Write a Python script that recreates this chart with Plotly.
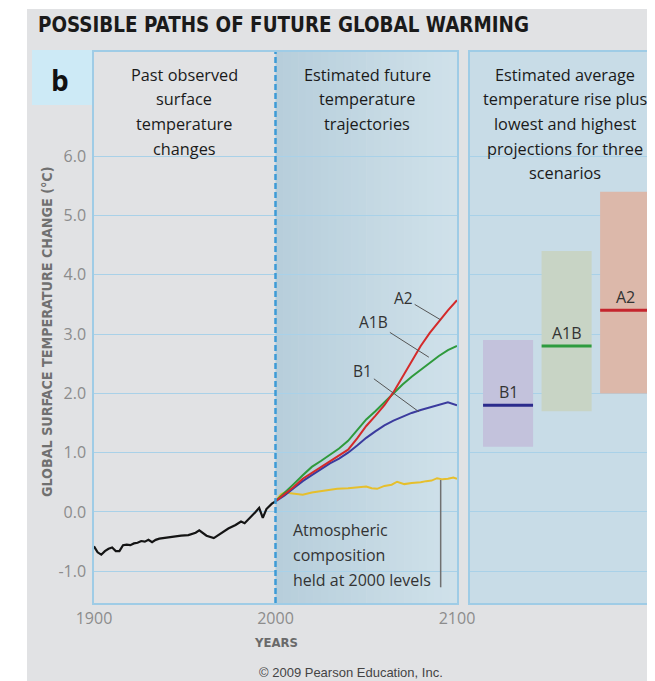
import plotly.graph_objects as go

# ---------------- data ----------------
obs_years = [1900, 1902, 1904, 1906, 1908, 1910, 1912, 1914, 1916, 1918, 1920, 1922, 1924,
             1926, 1928, 1930, 1932, 1934, 1936, 1938, 1940, 1944, 1948, 1952, 1956, 1958,
             1962, 1966, 1970, 1974, 1978, 1981, 1983, 1986, 1989, 1991, 1993, 1995, 1998,
             2000]
obs_temp = [-0.58, -0.68, -0.72, -0.66, -0.62, -0.60, -0.66, -0.66, -0.56, -0.55, -0.56,
            -0.53, -0.52, -0.49, -0.50, -0.47, -0.51, -0.47, -0.45, -0.44, -0.43, -0.42,
            -0.40, -0.39, -0.35, -0.31, -0.40, -0.44, -0.36, -0.28, -0.22, -0.16, -0.19,
            -0.10, 0.00, 0.07, -0.10, 0.05, 0.14, 0.18]

fut_years = [2000, 2005, 2010, 2015, 2020, 2025, 2030, 2035, 2040, 2045, 2050,
             2055, 2060, 2065, 2070, 2075, 2080, 2085, 2090, 2095, 2100]
a2_temp = [0.18, 0.30, 0.42, 0.56, 0.66, 0.76, 0.86, 0.95, 1.05, 1.24, 1.45,
           1.62, 1.80, 2.02, 2.28, 2.55, 2.80, 3.02, 3.22, 3.40, 3.57]
a1b_temp = [0.18, 0.32, 0.47, 0.62, 0.76, 0.86, 0.97, 1.07, 1.20, 1.38, 1.56,
            1.70, 1.85, 2.00, 2.15, 2.28, 2.40, 2.52, 2.63, 2.73, 2.80]
b1_temp = [0.18, 0.28, 0.40, 0.52, 0.62, 0.72, 0.82, 0.90, 1.00, 1.12, 1.25,
           1.36, 1.46, 1.54, 1.61, 1.67, 1.72, 1.76, 1.80, 1.85, 1.80]

const_years = [2000, 2003, 2005, 2008, 2012, 2015, 2020, 2025, 2030, 2034, 2040, 2045, 2050,
               2053, 2056, 2060, 2064, 2067, 2071, 2075, 2080, 2083, 2086, 2089, 2092, 2095,
               2098, 2100]
const_temp = [0.18, 0.30, 0.33, 0.32, 0.30, 0.29, 0.33, 0.35, 0.37, 0.39, 0.40, 0.41, 0.43,
              0.40, 0.39, 0.44, 0.46, 0.51, 0.47, 0.49, 0.50, 0.52, 0.53, 0.57, 0.55, 0.56,
              0.58, 0.56]

scenarios = ["B1", "A1B", "A2"]
scen_mean = [1.8, 2.8, 3.4]
scen_low = [1.1, 1.7, 2.0]
scen_high = [2.9, 4.4, 5.4]

x_tickvals = [1900, 2000, 2100]
x_ticktext = ["1900", "2000", "2100"]
y_tickvals = [-1, 0, 1, 2, 3, 4, 5, 6]
y_ticktext = ["-1.0", "0.0", "1.0", "2.0", "3.0", "4.0", "5.0", "6.0"]

# ---------------- layout geometry (page pixels; page body adds an 8px offset) ----------------
OFF = 8
W, H = 655 - OFF, 681 - OFF
ML, MR, MT, MB = 94 - OFF, 0, 52 - OFF, 78
PW, PH = W - ML - MR, H - MT - MB


def X(px):
    return (px - OFF - ML) / PW


def Y(py):
    return (H - MB - (py - OFF)) / PH


scen_fill = ["#c3c2dc", "#c8d4c5", "#dcb8aa"]
scen_line = ["#2b2b8c", "#2e9b3f", "#c5252d"]
border = "#9fcce6"
grid = "#a9d1e8"
tickgray = "#8c8c8c"
body_font = "Open Sans"
cond_font = "DejaVu Sans Condensed"

fig = go.Figure()

# future scenario lines
fig.add_trace(go.Scatter(x=const_years, y=const_temp, mode="lines",
                         line=dict(color="#e6bf2c", width=2), xaxis="x", yaxis="y"))
fig.add_trace(go.Scatter(x=fut_years, y=b1_temp, mode="lines",
                         line=dict(color="#3b3b9e", width=2), xaxis="x", yaxis="y"))
fig.add_trace(go.Scatter(x=fut_years, y=a1b_temp, mode="lines",
                         line=dict(color="#2f9a3c", width=2), xaxis="x", yaxis="y"))
fig.add_trace(go.Scatter(x=fut_years, y=a2_temp, mode="lines",
                         line=dict(color="#d42a2a", width=2), xaxis="x", yaxis="y"))
# observed
fig.add_trace(go.Scatter(x=obs_years, y=obs_temp, mode="lines",
                         line=dict(color="#141414", width=2.2), xaxis="x", yaxis="y"))

# scenario ranges
idx = list(range(len(scenarios)))
fig.add_trace(go.Bar(x=idx, y=[h - l for h, l in zip(scen_high, scen_low)], base=scen_low,
                     width=0.855, marker=dict(color=scen_fill, line=dict(width=0)),
                     xaxis="x2", yaxis="y2"))
fig.add_trace(go.Scatter(x=idx, y=scen_mean, mode="markers",
                         marker=dict(symbol="line-ew", size=35.7,
                                     line=dict(width=3, color=scen_line)),
                         xaxis="x2", yaxis="y2"))

shapes = []
# page background
shapes.append(dict(type="rect", xref="paper", yref="paper", x0=X(27), x1=X(700),
                   y0=Y(9), y1=Y(720), fillcolor="#e1e2e4", line=dict(width=0), layer="below"))
# "b" box
shapes.append(dict(type="rect", xref="paper", yref="paper", x0=X(32), x1=X(93),
                   y0=Y(50), y1=Y(105), fillcolor="#cdeaf6", line=dict(width=0), layer="below"))
# panel 2 gradient background
n = 24
c0 = (183, 206, 219)
c1 = (207, 225, 234)
for i in range(n):
    t = i / (n - 1)
    c = tuple(int(round(c0[k] + (c1[k] - c0[k]) * t)) for k in range(3))
    shapes.append(dict(type="rect", xref="x", yref="y domain",
                       x0=2000 + 100 * i / n, x1=2000 + 100 * (i + 1) / n + 0.3,
                       y0=0, y1=1, fillcolor="rgb(%d,%d,%d)" % c,
                       line=dict(width=0), layer="below"))
# panel 3 background
shapes.append(dict(type="rect", xref="x2 domain", yref="y2 domain", x0=0, x1=1, y0=0, y1=1,
                   fillcolor="#c8dce7", line=dict(width=0), layer="below"))
# 2000 dashed divider
shapes.append(dict(type="line", xref="x", yref="y domain", x0=2000, x1=2000, y0=0, y1=1,
                   line=dict(color="#3d9bd6", width=2.5, dash="6px,3px"), layer="above"))
# leader for constant composition
shapes.append(dict(type="line", xref="x", yref="y", x0=2091, x1=2091, y0=0.54, y1=-1.27,
                   line=dict(color="#707070", width=1.5)))

ann = []
# title
ann.append(dict(text="POSSIBLE PATHS OF FUTURE GLOBAL WARMING", xref="paper", yref="paper",
                x=X(36), y=Y(25), xanchor="left", yanchor="middle", showarrow=False,
                font=dict(family=cond_font, size=20.4, color="#1a1a1a", weight="bold")))
ann.append(dict(text="b", xref="paper", yref="paper", x=X(60), y=Y(80),
                xanchor="center", yanchor="middle", showarrow=False,
                font=dict(family=body_font, size=28, color="#111111", weight="bold")))

headers = [
    (184, ["Past observed", "surface", "temperature", "changes"]),
    (367, ["Estimated future", "temperature", "trajectories"]),
    (565, ["Estimated average", "temperature rise plus", "lowest and highest",
           "projections for three", "scenarios"]),
]
for cx, lines in headers:
    for k, s in enumerate(lines):
        ann.append(dict(text=s, xref="paper", yref="paper", x=X(cx), y=Y(75 + 24.5 * k),
                        xanchor="center", yanchor="middle", showarrow=False,
                        font=dict(family=body_font, size=16.3, color="#1a1a1a")))

for k, s in enumerate(["Atmospheric", "composition", "held at 2000 levels"]):
    ann.append(dict(text=s, xref="paper", yref="paper", x=X(291), y=Y(530 + 25 * k),
                    xanchor="left", yanchor="middle", showarrow=False,
                    font=dict(family=body_font, size=16, color="#333333")))

# scenario line labels with leaders
for lab, (xx, yy, axp, ayp) in zip(["A2", "A1B", "B1"],
                                   [(2091, 3.24, -37, -22), (2084.5, 2.61, -55, -35),
                                    (2079, 1.69, -56, -41)]):
    ann.append(dict(text=lab, x=xx, y=yy, xref="x", yref="y", ax=axp, ay=ayp,
                    showarrow=True, arrowhead=0, arrowwidth=1, arrowcolor="#555555",
                    standoff=0, font=dict(family=body_font, size=15.5, color="#333333")))

# scenario bar labels
for i, s in enumerate(scenarios):
    ann.append(dict(text=s, x=i, y=scen_mean[i], xref="x2", yref="y2", yshift=13,
                    showarrow=False,
                    font=dict(family=body_font, size=16, color="#333333")))

ann.append(dict(text="GLOBAL SURFACE TEMPERATURE CHANGE (°C)", xref="paper", yref="paper",
                x=X(47), y=Y(332), textangle=-90, showarrow=False,
                xanchor="center", yanchor="middle",
                font=dict(family=cond_font, size=14.2, color="#707070", weight="bold")))
ann.append(dict(text="YEARS", xref="x", yref="paper", x=2000, y=Y(642),
                showarrow=False, xanchor="center", yanchor="middle",
                font=dict(family=cond_font, size=13, color="#6a6a6a", weight="bold")))
ann.append(dict(text="© 2009 Pearson Education, Inc.", xref="paper", yref="paper",
                x=X(351), y=Y(672), showarrow=False, xanchor="center", yanchor="middle",
                font=dict(family="Liberation Sans", size=13, color="#444444")))

fig.update_layout(
    width=W, height=H, autosize=False,
    margin=dict(l=ML, r=MR, t=MT, b=MB, pad=0),
    paper_bgcolor="white", plot_bgcolor="rgba(0,0,0,0)",
    showlegend=False, barmode="overlay",
    xaxis=dict(domain=[0, X(457)], range=[1900, 2100], tickvals=x_tickvals,
               ticktext=x_ticktext, showgrid=False, zeroline=False, showline=True,
               linecolor=border, linewidth=1.5, mirror=True, ticks="", ticklen=0,
               tickfont=dict(family=body_font, size=16, color=tickgray),
               anchor="y", automargin=False),
    yaxis=dict(range=[-1.535, 7.757], tickvals=y_tickvals, ticktext=y_ticktext,
               showgrid=True, gridcolor=grid, gridwidth=1, zeroline=False, showline=True,
               linecolor=border, linewidth=1.5, mirror=True, ticks="",
               tickfont=dict(family=body_font, size=16, color=tickgray),
               ticklabelstandoff=3, anchor="x", automargin=False),
    xaxis2=dict(domain=[X(470), 1], range=[-0.65, 2.51], showticklabels=False,
                showgrid=False, zeroline=False, showline=True, linecolor=border,
                linewidth=1.5, mirror=True, ticks="", anchor="y2", automargin=False),
    yaxis2=dict(matches="y", anchor="x2", tickvals=y_tickvals, showticklabels=False,
                showgrid=True, gridcolor=grid, gridwidth=1, zeroline=False, showline=True,
                linecolor=border, linewidth=1.5, mirror=True, ticks="", automargin=False),
    shapes=shapes, annotations=ann,
)

fig.write_html("out.html")
